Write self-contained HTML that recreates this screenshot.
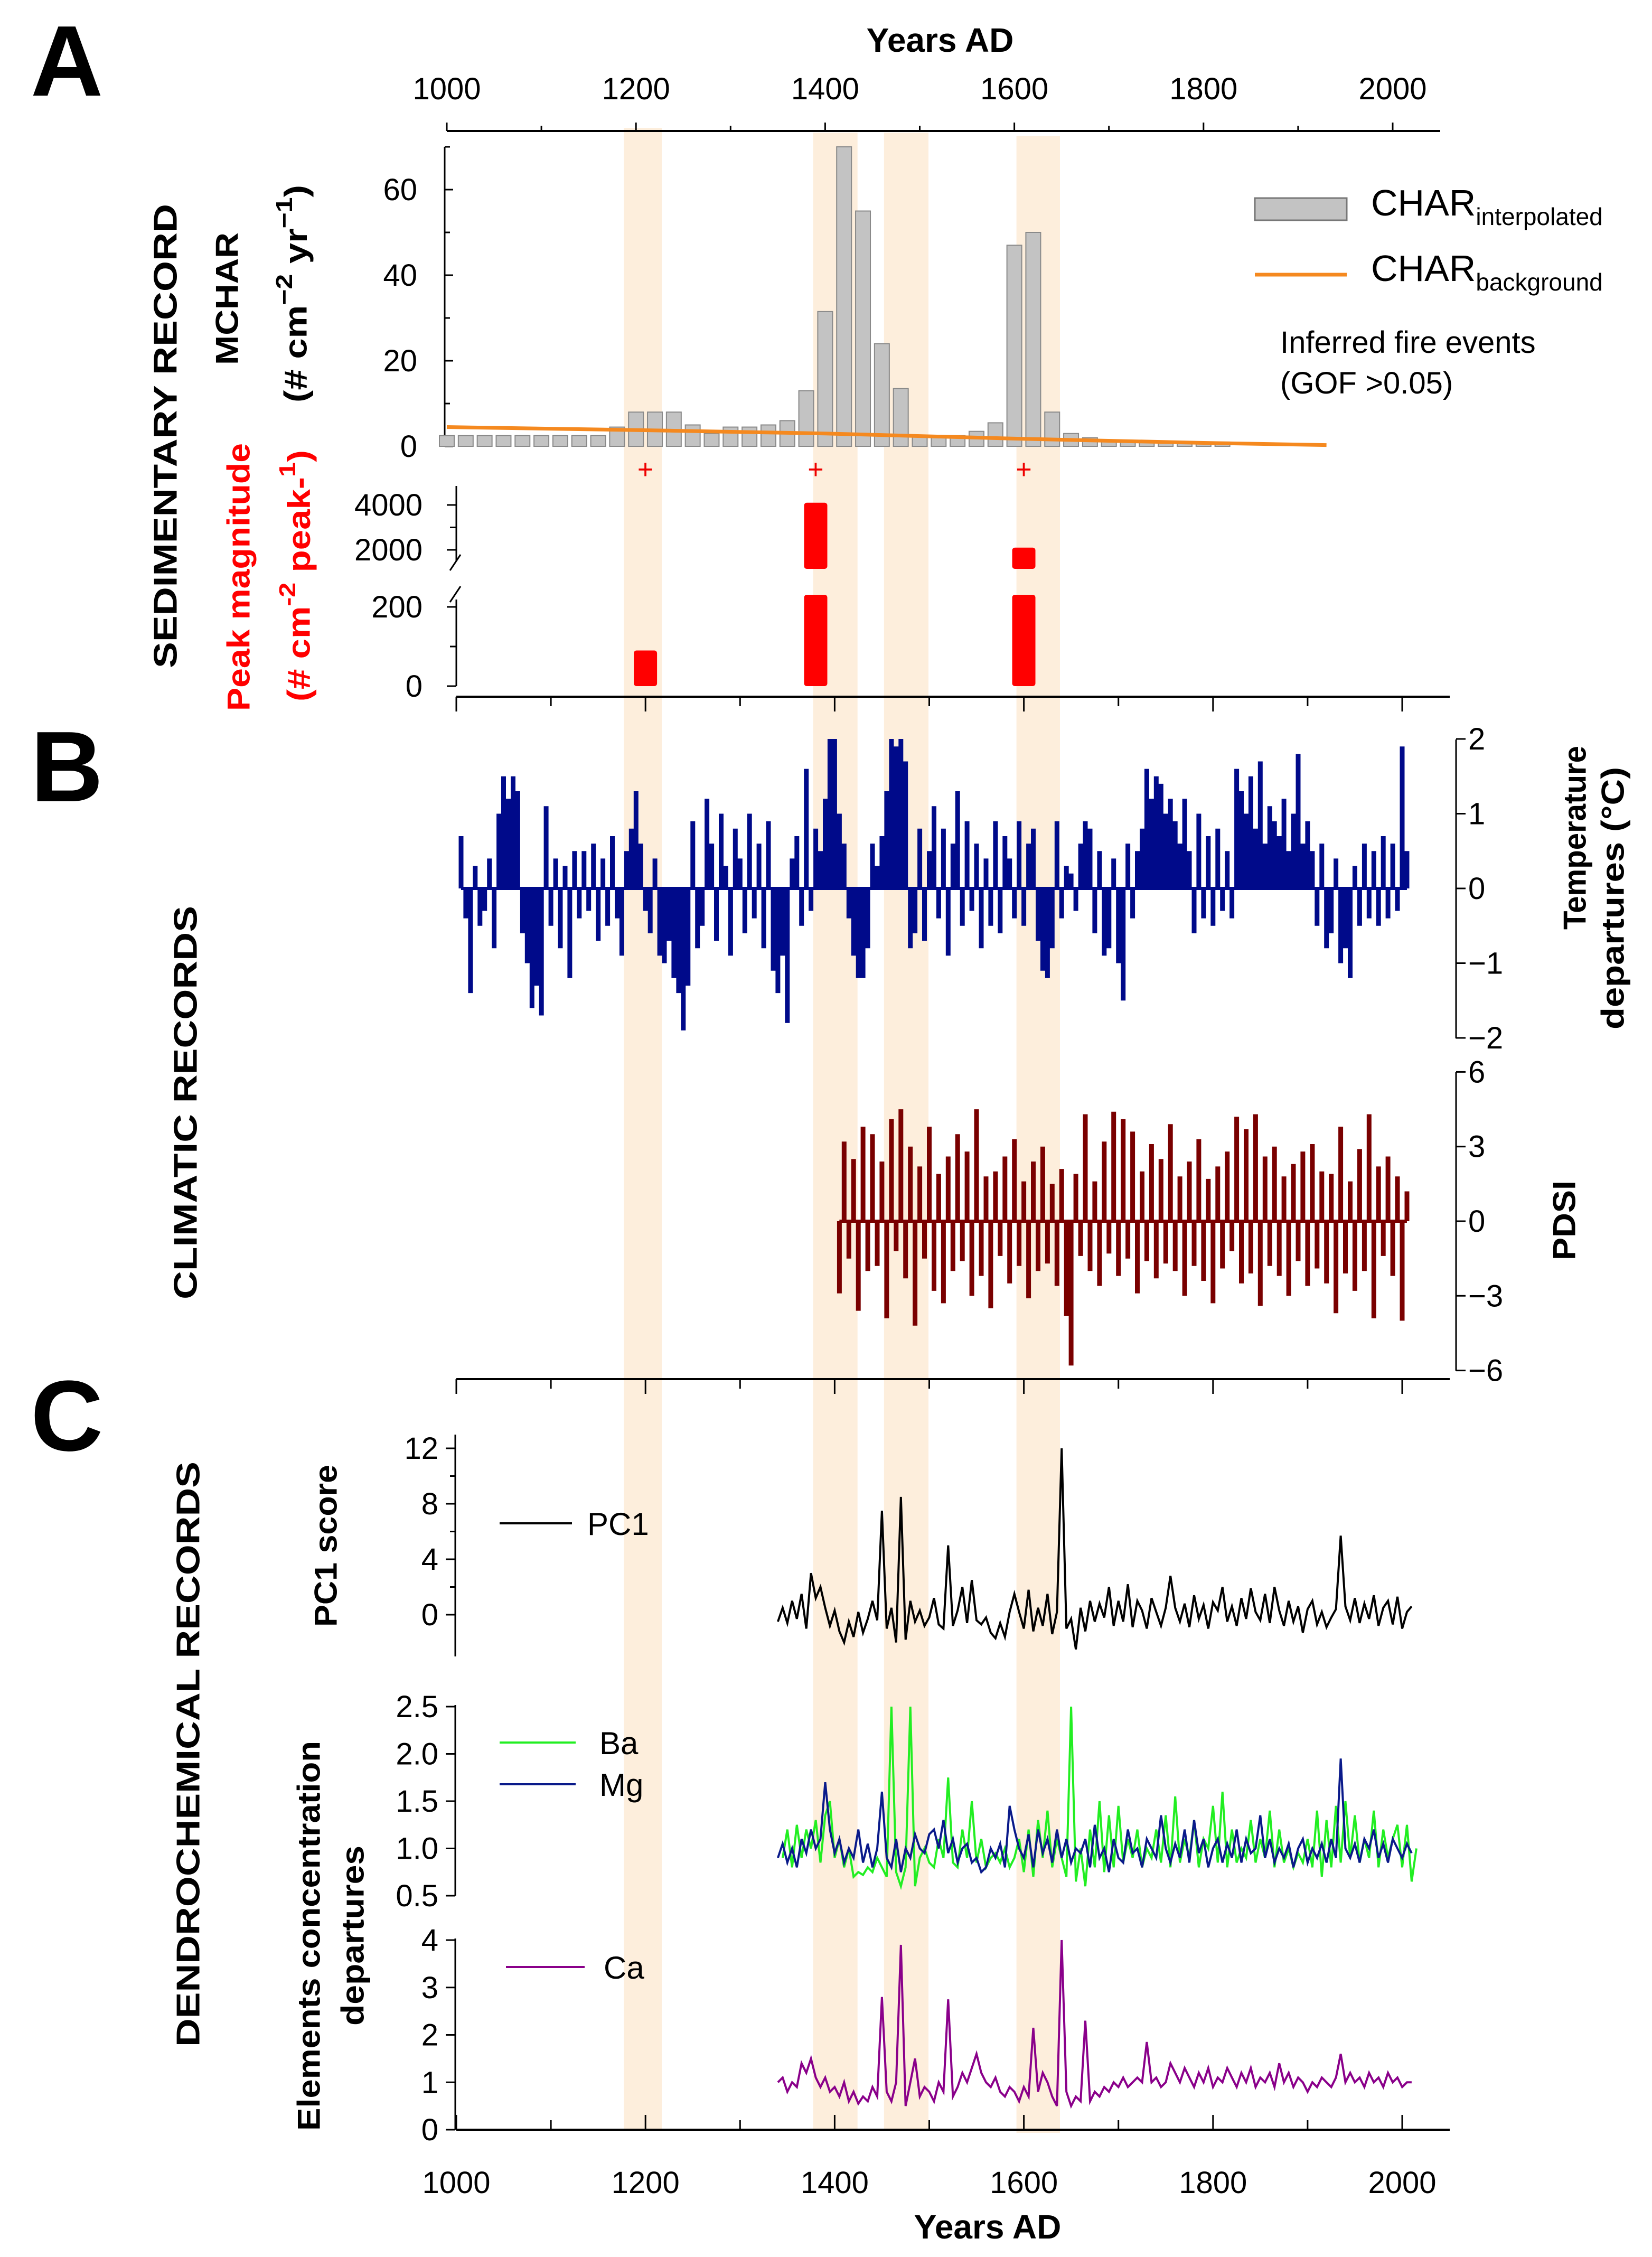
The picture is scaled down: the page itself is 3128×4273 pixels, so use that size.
<!DOCTYPE html>
<html><head><meta charset="utf-8"><style>
html,body{margin:0;padding:0;background:#fff}
svg{display:block}
text{font-family:"Liberation Sans Narrow","Liberation Sans",sans-serif}
.b{font-family:"Liberation Sans",sans-serif;font-weight:bold}
</style></head><body>
<svg id="c" width="3128" height="4273" viewBox="0 0 3128 4273" xmlns="http://www.w3.org/2000/svg"></svg>
<script>
const barYears=[1000,1020,1040,1060,1080,1100,1120,1140,1160,1180,1200,1220,1240,1260,1280,1300,1320,1340,1360,1380,1400,1420,1440,1460,1480,1500,1520,1540,1560,1580,1600,1620,1640,1660,1680,1700,1720,1740,1760,1780,1800,1820];
const barValues=[2.5,2.5,2.5,2.5,2.5,2.5,2.5,2.5,2.5,4.5,8,8,8,5,3,4.5,4.5,5,6,13,31.5,70,55,24,13.5,2.5,2.5,2.5,3.5,5.5,47,50,8,3,2,1.5,1,1,1,1,1,1];
const bgYears=[1000,1200,1400,1600,1800,1930];
const bgValues=[4.5,3.8,3.0,1.8,0.8,0.3];
const peakYears=[1210,1390,1610];
const peakValues=[90,4100,2100];
const bands=[[1185,1225],[1385,1432],[1460,1507],[1600,1646]];
const tempStart=1005;
const tempValues=[0.7,-0.4,-1.4,0.3,-0.5,-0.3,0.4,-0.8,1.0,1.5,1.2,1.5,1.3,-0.6,-1.0,-1.6,-1.3,-1.7,1.1,-0.5,0.4,-0.8,0.3,-1.2,0.5,-0.4,0.5,-0.3,0.6,-0.7,0.4,-0.5,0.7,-0.4,-0.9,0.5,0.8,1.3,0.6,-0.3,-0.6,0.4,-0.9,-1.0,-0.7,-1.2,-1.4,-1.9,-1.3,0.9,-0.8,-0.5,1.2,0.6,-0.7,1.0,0.3,-0.9,0.8,0.4,-0.6,1.0,-0.4,0.6,-0.8,0.9,-1.1,-1.4,-0.9,-1.8,0.4,0.7,-0.5,1.6,-0.3,0.8,0.5,1.2,2.0,2.0,1.0,0.6,-0.4,-0.9,-1.2,-1.2,-0.8,0.6,0.3,0.7,1.3,2.0,1.9,2.0,1.7,-0.8,-0.6,0.8,-0.7,0.5,1.1,-0.4,0.8,-0.9,0.6,1.3,-0.5,0.9,-0.3,0.6,-0.8,0.4,-0.5,0.9,-0.6,0.7,0.4,-0.4,0.9,-0.5,0.6,0.8,-0.7,-1.1,-1.2,-0.8,0.9,-0.4,0.3,0.2,-0.3,0.6,0.9,0.8,-0.6,0.5,-0.9,-0.8,0.4,-1.0,-1.5,0.6,-0.4,0.5,0.8,1.6,1.2,1.5,1.4,1.0,1.2,0.9,0.6,1.2,0.5,-0.6,1.0,-0.4,0.7,-0.5,0.8,-0.3,0.5,-0.4,1.6,1.3,1.0,1.5,0.8,1.7,0.6,1.1,0.9,0.7,1.2,0.5,1.0,1.8,0.6,0.9,0.5,-0.5,0.6,-0.8,-0.6,0.4,-1.0,-0.8,-1.2,0.3,-0.5,0.6,-0.4,0.5,-0.5,0.7,-0.4,0.6,-0.3,1.9,0.5];
const pdsiStart=1405;
const pdsiValues=[-2.9,3.2,-1.5,2.5,-3.6,3.8,-2.0,3.5,-1.8,2.4,-3.9,4.1,-1.2,4.5,-2.3,3.0,-4.2,2.2,-1.5,3.8,-2.8,1.9,-3.3,2.6,-2.0,3.5,-1.6,2.8,-3.0,4.5,-2.2,1.8,-3.5,2.0,-1.4,2.6,-2.5,3.3,-1.8,1.6,-3.1,2.4,-2.0,3.0,-1.7,1.5,-2.6,2.1,-3.8,-5.8,1.9,-1.4,4.3,-2.0,1.6,-2.6,3.2,-1.3,4.4,-2.2,4.1,-1.5,3.6,-2.9,2.0,-1.6,3.1,-2.3,2.5,-1.7,3.9,-2.0,1.8,-3.0,2.4,-1.8,3.3,-2.4,1.7,-3.3,2.2,-1.9,2.8,-1.2,4.2,-2.5,3.7,-2.1,4.3,-3.4,2.6,-1.8,3.0,-2.2,1.8,-3.0,2.3,-1.6,2.8,-2.6,3.1,-1.9,2.0,-2.5,1.9,-3.7,3.8,-2.1,1.6,-2.8,2.9,-2.0,4.3,-3.9,2.2,-1.4,2.6,-2.2,1.8,-4.0,1.2];
const pc1Start=1340;
const pc1Values=[-0.5,0.5,-0.6,1.0,-0.3,1.5,-1.0,3.0,1.2,2.0,0.5,-0.8,0.3,-1.2,-2.0,-0.5,-1.6,0.2,-1.3,-0.3,1.0,-0.4,7.5,-1.0,0.5,-2.0,8.5,-1.8,1.0,-0.5,0.3,-0.8,-0.2,1.2,-0.7,-1.0,5.0,-0.8,0.3,2.0,-0.6,2.5,-0.4,-0.7,-0.2,-1.3,-1.7,-0.6,-1.6,0.2,1.5,0.2,-1.0,1.8,-1.2,0.5,-0.8,1.5,-1.4,0.2,12.0,-1.0,-0.3,-2.5,0.5,-1.2,1.0,-0.5,0.8,-0.2,2.0,-0.8,1.0,-0.5,2.2,-0.9,1.0,0.3,-1.0,1.2,0.2,-0.8,0.5,2.8,0.5,-0.5,0.8,-0.9,1.4,-0.3,0.7,-1.0,0.9,0.3,2.0,-0.5,0.6,-0.8,1.2,-0.3,1.9,0.2,-0.4,1.5,-0.6,2.0,0.3,-0.8,1.0,-0.5,0.6,-1.3,0.4,1.0,-0.7,0.2,-0.9,-0.2,0.4,5.7,0.6,-0.4,1.2,-0.6,0.8,-0.3,1.4,-0.8,0.5,1.0,-0.7,1.3,-1.0,0.2,0.6];
const baStart=1345;
const baValues=[0.9,1.2,0.8,1.25,0.9,1.2,1.0,1.3,0.85,1.35,1.5,0.9,1.1,0.8,1.0,0.7,0.75,0.72,0.8,0.75,0.9,0.8,0.7,2.5,0.75,0.6,0.8,2.5,0.6,0.9,1.0,0.85,0.8,1.1,0.9,1.75,0.85,0.8,1.2,0.9,1.5,0.85,1.1,0.8,0.9,0.95,0.85,1.0,0.8,0.9,1.1,0.75,1.2,0.7,1.3,0.9,1.4,0.8,1.1,0.9,0.7,2.5,0.65,1.0,0.6,1.2,0.8,1.5,0.75,1.35,0.8,1.45,0.85,1.1,0.9,1.2,0.8,1.0,0.9,1.2,0.85,1.35,0.8,1.55,0.85,1.1,0.9,1.3,0.8,1.1,1.0,1.45,0.85,1.6,0.8,1.2,0.85,1.0,0.9,1.3,0.85,1.1,0.9,1.4,0.8,1.2,0.85,1.0,0.8,0.95,0.85,1.1,0.8,1.4,0.7,1.3,0.8,1.45,0.85,1.5,0.9,1.35,0.85,1.1,0.9,1.4,0.8,1.2,0.9,1.1,1.25,0.8,1.25,0.65,1.0];
const mgStart=1340;
const mgValues=[0.9,1.05,0.85,1.0,0.8,1.1,0.95,1.2,1.0,1.1,1.7,1.2,0.95,1.1,0.85,1.0,0.9,1.2,0.85,1.05,0.8,1.0,1.6,0.9,0.8,1.1,0.75,1.0,0.9,1.15,1.0,0.95,1.15,1.2,1.0,1.3,0.95,1.1,0.85,1.0,1.05,0.85,0.9,0.75,0.8,1.0,0.9,1.05,0.8,1.45,1.2,1.0,0.9,1.15,0.8,1.2,0.95,1.1,0.85,1.2,0.9,1.1,0.85,1.0,0.95,1.1,0.8,1.25,0.9,1.0,0.75,1.1,0.9,0.85,1.2,0.95,1.0,0.8,1.1,1.0,0.9,1.35,1.0,0.85,1.05,0.9,1.2,0.85,1.3,0.95,1.1,0.8,1.0,1.1,0.85,1.05,0.9,1.2,0.85,1.1,0.95,1.0,1.35,0.9,1.1,0.85,1.0,0.9,1.05,0.8,1.0,1.1,0.85,1.0,0.9,1.05,0.85,1.1,0.9,1.95,1.0,0.9,1.05,0.85,1.1,1.0,1.2,0.9,1.05,0.85,1.1,1.0,0.9,1.05,0.95];
const caStart=1340;
const caValues=[1.0,1.1,0.8,1.0,0.9,1.4,1.2,1.5,1.1,0.9,1.1,0.8,0.9,0.7,1.0,0.6,0.8,0.55,0.7,0.6,0.9,0.7,2.8,0.8,0.6,1.0,3.9,0.5,1.0,1.5,0.7,0.9,0.8,0.6,1.0,0.8,2.75,0.7,0.9,1.2,1.0,1.3,1.6,1.2,1.0,0.9,1.1,0.8,0.7,0.9,0.8,0.6,0.9,0.7,2.15,0.8,1.2,1.0,0.7,0.5,4.0,0.8,0.5,0.7,0.6,2.3,0.6,0.8,0.7,0.9,0.8,1.0,0.9,1.1,0.9,1.0,1.1,1.0,1.85,1.0,1.1,0.9,1.0,1.4,1.2,1.0,1.3,1.1,0.9,1.2,1.0,1.3,0.9,1.1,1.0,1.3,1.1,0.9,1.2,1.0,1.3,0.9,1.1,1.0,1.2,0.9,1.4,1.0,1.2,0.9,1.1,1.0,0.8,1.0,0.9,1.1,1.0,0.9,1.1,1.6,1.0,1.2,1.0,1.1,0.9,1.2,1.0,1.1,0.9,1.2,1.0,1.1,0.9,1.0,1.0];
const topTicks=[1000,1200,1400,1600,1800,2000];
const mcharTicks=[0,20,40,60];
const tempTicks=[2,1,0,-1,-2];
const pdsiTicks=[6,3,0,-3,-6];
const pc1Ticks=[0,4,8,12];
const elemTicks=[0.5,1.0,1.5,2.0,2.5];
const caTicks=[0,1,2,3,4];

const NS='http://www.w3.org/2000/svg';
const svg=document.getElementById('c');
function el(tag,attrs,parent){const e=document.createElementNS(NS,tag);for(const k in attrs)e.setAttribute(k,attrs[k]);(parent||svg).appendChild(e);return e;}
function tx(str,attrs,parent){const e=el('text',attrs,parent);e.textContent=str;return e;}
const xt=y=>846+(y-1000)*1.791;
const xb=y=>864+(y-1000)*1.791;
const ym=v=>845-v*8.1;
const yl=v=>1299-v*0.75;
const yu=v=>956+(4000-v)*0.0425;
const yT=v=>1682-v*141.5;
const yP=v=>2312-v*47.1;
const yPC=v=>3057-v*26.25;
const yE=v=>3589-(v-0.5)*179;
const yC=v=>4032-v*89.75;

bands.forEach((b,i)=>{const r=el('rect',{x:xb(b[0])-14,y:i==0?242:(i==3?257:251),width:(b[1]-b[0])*1.791,height:4032-(i==0?242:251),fill:'#fdeedc'});

});

const AX='#000';
function line(x1,y1,x2,y2,w,c,p){return el('line',{x1,y1,x2,y2,stroke:c||AX,'stroke-width':w||3},p);}

[['A',49+132],['B',1382+135],['C',2608+138]].forEach(([l,y])=>{const t=tx(l,{x:58,y:y,'font-size':190,class:'b'});

});

const gTop=el('g',{});


line(846,248,2727,248,4,AX,gTop);
for(let y=1000;y<=2000;y+=100){line(xt(y),248,xt(y),y%200==0?232:238,3,AX,gTop);}
topTicks.forEach(v=>tx(v,{x:xt(v),y:188,'font-size':58,'text-anchor':'middle'},gTop));
const ttl=tx('Years AD',{x:1780,y:98,'font-size':64,'text-anchor':'middle',class:'b'});



const gM=el('g',{});


line(842,278,842,846,3,AX,gM);
for(let v=0;v<=70;v+=10)line(842,ym(v),v%20==0?858:852,ym(v),3,AX,gM);
mcharTicks.forEach(v=>tx(v,{x:790,y:ym(v)+20,'font-size':58,'text-anchor':'end'},gM));

const gB=el('g',{});


barYears.forEach((yr,i)=>{const r=el('rect',{x:xt(yr)-14,y:ym(barValues[i]),width:28,height:ym(0)-ym(barValues[i]),fill:'#c3c3c3',stroke:'#8a8a8a','stroke-width':2},gB);

});
const bgp=el('polyline',{points:bgYears.map((y,i)=>xt(y)+','+ym(bgValues[i])).join(' '),fill:'none',stroke:'#f5891f','stroke-width':7});



const gL=el('g',{});


el('rect',{x:2376,y:375,width:174,height:42,fill:'#c3c3c3',stroke:'#777','stroke-width':3},gL);
const l1=tx('',{x:2596,y:408,'font-size':70},gL);l1.innerHTML='CHAR<tspan font-size="46" dy="18">interpolated</tspan>';
line(2376,520,2550,520,7,'#f5891f',gL);
const l2=tx('',{x:2596,y:532,'font-size':70},gL);l2.innerHTML='CHAR<tspan font-size="46" dy="18">background</tspan>';
tx('Inferred fire events',{x:2424,y:668,'font-size':58},gL);
tx('(GOF >0.05)',{x:2424,y:745,'font-size':58},gL);

peakYears.forEach(y=>{const t=tx('+',{x:xt(y),y:906,'font-size':52,fill:'#e00','text-anchor':'middle'});

});

const gP=el('g',{});


line(864,920,864,1062,3,AX,gP);line(864,1135,864,1299,3,AX,gP);
line(852,1080,872,1050,3,AX,gP);line(852,1140,872,1110,3,AX,gP);
[4000,3000,2000].forEach(v=>line(864,yu(v),v==3000?852:846,yu(v),3,AX,gP));
[0,100,200].forEach(v=>line(864,yl(v),v==100?852:846,yl(v),3,AX,gP));
[[4000,yu(4000)],[2000,yu(2000)],[200,yl(200)],[0,yl(0)]].forEach(([v,y])=>tx(v,{x:800,y:y+20,'font-size':58,'text-anchor':'end'},gP));
peakYears.forEach((y,i)=>{const v=peakValues[i];const x=xt(y)-22;
if(v<=200){const r=el('rect',{x,y:yl(v),width:44,height:yl(0)-yl(v),rx:5,fill:'#f00'});}
else{const r=el('rect',{x,y:1126,width:44,height:1299-1126,rx:5,fill:'#f00'});
const r2=el('rect',{x,y:yu(v),width:44,height:1077-yu(v),rx:5,fill:'#f00'});}});

function bottomAxis(y,dir,name,labels){const g=el('g',{});
line(864,y,2745,y,4,AX,g);for(let yr=1000;yr<=2000;yr+=100)line(xb(yr),y,xb(yr),y+dir*(yr%200==0?28:18),3,AX,g);
if(labels)topTicks.forEach(v=>tx(v,{x:xb(v),y:y+120,'font-size':58,'text-anchor':'middle'},g));return g;}
bottomAxis(1319,1,'panel-a-bottom-axis');
bottomAxis(2611,1,'panel-b-bottom-axis');
bottomAxis(4032,-1,'bottom-x-axis',true);
const bt=tx('Years AD',{x:1870,y:4238,'font-size':64,'text-anchor':'middle',class:'b'});



function rightAxis(top,bot,ticks,f,name){const g=el('g',{});
line(2757,top,2757,bot,3,AX,g);ticks.forEach(v=>{line(2757,f(v),2775,f(v),3,AX,g);tx(String(v).replace('-','\u2212'),{x:2780,y:f(v)+20,'font-size':58},g);});}
rightAxis(1400,1966,tempTicks,yT,'temperature-y-axis');
rightAxis(2030,2595,pdsiTicks,yP,'pdsi-y-axis');

function spikes(start,vals,f,color,name){const g=el('g',{});
let d='';vals.forEach((v,i)=>{const x=xb(start+i*5);d+='M'+x.toFixed(1)+' '+f(0).toFixed(1)+'V'+f(v).toFixed(1);});
el('path',{d,stroke:color,'stroke-width':9,fill:'none'},g);
line(xb(start),f(0),xb(start+(vals.length-1)*5),f(0),6,color,g);}
spikes(tempStart,tempValues,yT,'#000a8a','temperature-series');
spikes(pdsiStart,pdsiValues,yP,'#7a0000','pdsi-series');

function leftAxis(top,bot,ticks,f,name,minor,fmt){const g=el('g',{});
line(862,top,862,bot,3,AX,g);ticks.forEach(v=>{line(862,f(v),844,f(v),3,AX,g);tx(fmt?v.toFixed(1):v,{x:830,y:f(v)+20,'font-size':58,'text-anchor':'end'},g);});
(minor||[]).forEach(v=>line(862,f(v),852,f(v),3,AX,g));}
leftAxis(2716,3136,pc1Ticks,yPC,'pc1-y-axis',[2,6,10]);
leftAxis(3228,3589,elemTicks,yE,'ba-mg-y-axis',[],true);
leftAxis(3670,4032,caTicks,yC,'ca-y-axis');

function series(start,vals,f,color,name){const p=el('polyline',{points:vals.map((v,i)=>xb(start+i*5).toFixed(1)+','+f(v).toFixed(1)).join(' '),fill:'none',stroke:color,'stroke-width':4});
}
series(pc1Start,pc1Values,yPC,'#000','pc1-series');
series(baStart,baValues,yE,'#22ee22','ba-series');
series(mgStart,mgValues,yE,'#0a1a8a','mg-series');
series(caStart,caValues,yC,'#8a008a','ca-series');

function leg(x1,x2,y,c,t,tx0,name){const g=el('g',{});line(x1,y,x2,y,4,c,g);tx(t,{x:tx0,y:y+22,'font-size':60},g);}
leg(946,1083,2884,'#000','PC1',1112,'legend-pc1');
leg(946,1090,3299,'#22ee22','Ba',1135,'legend-ba');
leg(946,1090,3378,'#0a1a8a','Mg',1135,'legend-mg');
leg(958,1107,3724,'#8a008a','Ca',1143,'legend-ca');

function rot(str,x,y1,y2,size,color,name,bold){const cy=(y1+y2)/2;const t=el('text',{x:0,y:0,'font-size':size,fill:color||'#000','text-anchor':'middle','dominant-baseline':'central',transform:`translate(${x},${cy}) rotate(-90)`,textLength:y2-y1,lengthAdjust:'spacingAndGlyphs',class:bold===false?'':'b'});
t.textContent=str;return t;}
rot('SEDIMENTARY RECORD',314,386,1265,62,'#000','sedimentary-record-title');
rot('MCHAR',430,440,691,60,'#000','mchar-label');
const u1=rot('',560,350,762,60,'#000','mchar-units');u1.innerHTML='(# cm<tspan dy="-22" font-size="44">\u22122</tspan><tspan dy="22"> yr</tspan><tspan dy="-22" font-size="44">\u22121</tspan><tspan dy="22">)</tspan>';
rot('Peak magnitude',452,839,1346,60,'#f00','peak-magnitude-label');
const u2=rot('',566,852,1328,60,'#f00','peak-magnitude-units');u2.innerHTML='(# cm<tspan dy="-22" font-size="44">-2</tspan><tspan dy="22"> peak-</tspan><tspan dy="-22" font-size="44">1</tspan><tspan dy="22">)</tspan>';
rot('CLIMATIC RECORDS',352,1715,2460,62,'#000','climatic-records-title');
rot('Temperature',2982,1412,1760,60,'#000','temperature-label');
rot('departures (°C)',3054,1452,1949,60,'#000','temperature-units');
rot('PDSI',2962,2235,2386,60,'#000','pdsi-label');
rot('DENDROCHEMICAL RECORDS',357,2767,3875,62,'#000','dendrochemical-records-title');
rot('PC1 score',617,2773,3080,60,'#000','pc1-score-label');
rot('Elements concentration',585,3296,4034,60,'#000','elements-label');
rot('departures',668,3494,3835,60,'#000','elements-label-2');
</script>
</body></html>
